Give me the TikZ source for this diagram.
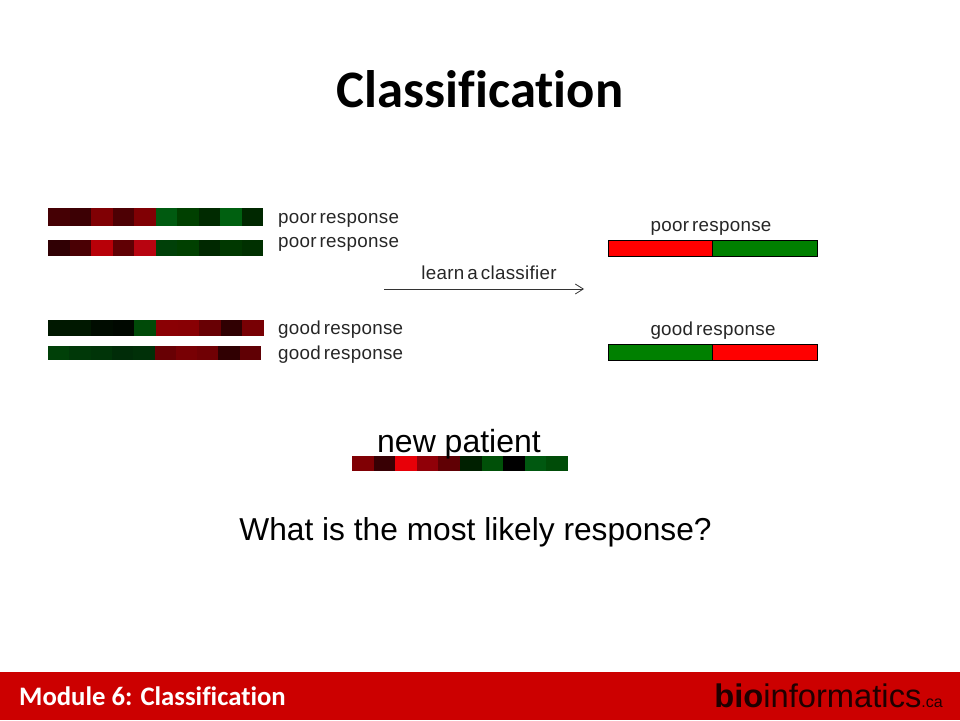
\documentclass[tikz,border=0pt]{standalone}
\usepackage{xcolor}
\usepackage{fontspec}
\setmainfont{Liberation Sans}
\newfontfamily\carlito[Ligatures=NoCommon]{Carlito}
\newfontfamily\tightsans[WordSpace=0.55, LetterSpace=1.5]{Liberation Sans}
\usetikzlibrary{arrows.meta, positioning}
\definecolor{footerred}{HTML}{CC0000}
\definecolor{classred}{HTML}{FF0000}
\definecolor{classgreen}{HTML}{008000}
\tikzset{
    labeltext/.style={font=\tightsans\fontsize{18.8}{23}\selectfont, text=black!85, inner sep=0pt, anchor=base},
    sampletext/.style={labeltext, anchor=base west},
    halfbar/.style={draw=black, line width=0.8pt}
}

\begin{document}
\begin{tikzpicture}[x=1pt, y=-1pt]
    \useasboundingbox (0,0) rectangle (960,720);

    % Title
    \node[font=\carlito\bfseries\fontsize{52.7}{60}\selectfont, inner sep=0pt, anchor=base] (title) at (480,107) {Classification};

    % Expression bars, ten cells each
    \foreach \bar/\xa/\ya/\yb/\cellw/\cells in {
        poorA/48/208/226/21.5/{450004,3C0004,800004,4D0004,800004,005A10,004000,002A00,006010,002800},
        poorB/48/240/256/21.5/{300004,4A0004,B80008,600004,B80410,004008,004000,002800,003800,003000},
        goodA/48/320/336/21.6/{001800,001800,000C00,000800,004A08,8A0004,880004,680004,300002,780004},
        goodB/48/346/360/21.3/{004008,003808,003408,002C08,003008,680004,780004,700004,300002,600004},
        newbar/352/456/471/21.6/{800004,380004,E80008,900008,600004,002000,005008,000000,005810,004C08}} {
        \foreach \col [count=\i from 0] in \cells {
            \definecolor{cellcol}{HTML}{\col}
            \fill[cellcol] ({\xa+\i*\cellw},\ya) rectangle ({\xa+(\i+1)*\cellw},\yb);
        }
    }

    % Sample labels
    \node[sampletext] (poorA) at (278,223) {poor response};
    \node[sampletext] (poorB) at (278,247) {poor response};
    \node[sampletext] (goodA) at (278,334) {good response};
    \node[sampletext] (goodB) at (278,359) {good response};

    % Classifier arrow
    \coordinate (learnstart) at (384,289);
    \coordinate (learnend) at (584,289);
    \draw[black!80, line width=0.8pt, -{Straight Barb[length=8pt, width=10pt]}] (learnstart) -- (learnend);
    \node[labeltext] (learn) at (489,279) {learn a classifier};

    % Classifier profiles
    \foreach \y/\colA/\colB in {240/classred/classgreen, 344/classgreen/classred} {
        \fill[\colA] (608,\y) rectangle (712.5,\y+16.5);
        \fill[\colB] (712.5,\y) rectangle (817,\y+16.5);
        \draw[halfbar] (608,\y) rectangle (817,\y+16.5);
        \draw[halfbar] (712.5,\y) -- (712.5,\y+16.5);
    }
    \node[labeltext] (poorC) at (711,231) {poor response};
    \node[labeltext] (goodC) at (713,335) {good response};

    % New patient
    \node[font=\fontsize{32}{38}\selectfont, inner sep=0pt, anchor=base] (patient) at (459,452) {new patient};
    \node[font=\fontsize{31.7}{38}\selectfont, inner sep=0pt, anchor=base] (question) at (475.5,540) {What is the most likely response?};

    % Footer
    \fill[footerred] (0,672) rectangle (960,720);
    \node[font=\carlito\bfseries\fontsize{26.7}{30}\selectfont, text=white, anchor=base west, inner sep=0pt] (module) at (19,705) {Module 6: Classification};
    \node[font=\fontsize{32.7}{38}\selectfont, text=black!85!footerred, anchor=base east, inner sep=0pt] (site) at (943,707) {\textbf{bio}informatics\fontsize{16}{19}\selectfont.ca};
\end{tikzpicture}
\end{document}
